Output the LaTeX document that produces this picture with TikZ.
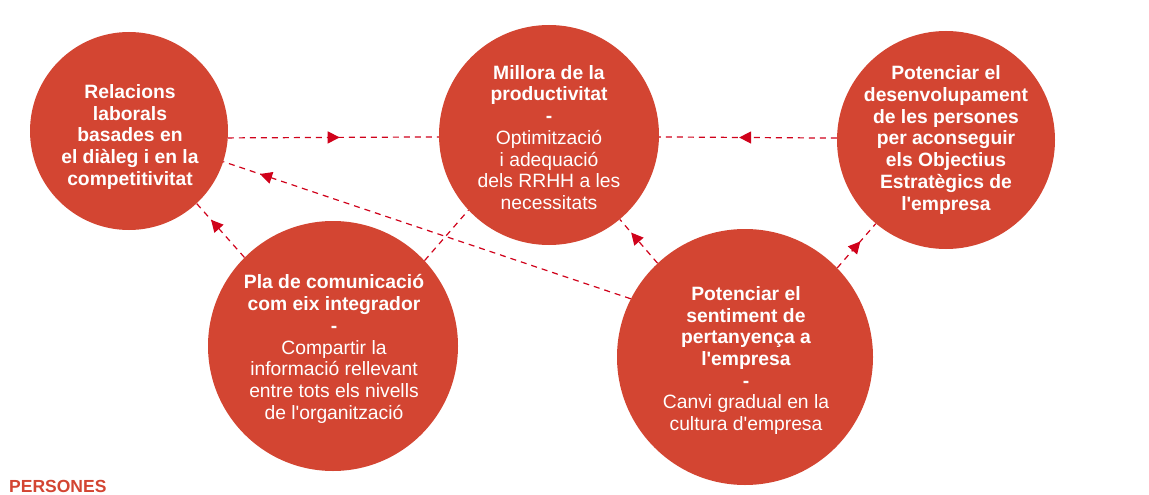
\documentclass[tikz,border=0pt]{standalone}
\usepackage{fontspec}
\setmainfont{Liberation Sans}
\usetikzlibrary{arrows.meta,decorations.markings}
\definecolor{circred}{HTML}{D34532}
\definecolor{arrred}{HTML}{D0021B}
\newcommand{\ap}{\textquotesingle}
\tikzset{
  circ/.style={circle,fill=circred,draw=none,inner sep=0pt},
  txt/.style={text=white,align=center,inner sep=0pt,font=\fontsize{19.3}{21.7}\selectfont},
  conn/.style={draw=arrred,line width=1.2pt,dash pattern=on 6pt off 5pt},
  midarrow/.style={conn,postaction={decorate},decoration={markings,
     mark=at position #1 with {\arrow[arrred]{Triangle[length=12pt,width=12pt]}}}}
}
\begin{document}
\begin{tikzpicture}[x=1pt,y=-1pt]
\useasboundingbox (0,0) rectangle (1149,495);
% circles
\node[circ,minimum size=198pt] (c1) at (129,131) {};
\node[circ,minimum size=220pt] (c2) at (549,135) {};
\node[circ,minimum size=218pt] (c3) at (946,140) {};
\node[circ,minimum size=250pt] (c4) at (333,346) {};
\node[circ,minimum size=256pt] (c5) at (745,357) {};
% texts
\node[txt] (t1) at (130,137) {\textbf{Relacions}\\\textbf{laborals}\\\textbf{basades en}\\\textbf{el diàleg i en la}\\\textbf{competitivitat}};
\node[txt] (t2) at (549,137.5) {\textbf{Millora de la}\\\textbf{productivitat}\\\textbf{-}\\Optimització\\i adequació\\dels RRHH a les\\necessitats};
\node[txt] (t3) at (946,140) {\textbf{Potenciar el}\\\textbf{desenvolupament}\\\textbf{de les persones}\\\textbf{per aconseguir}\\\textbf{els Objectius}\\\textbf{Estratègics de}\\\textbf{l\ap empresa}};
\node[txt] (t4) at (334,349) {\textbf{Pla de comunicació}\\\textbf{com eix integrador}\\\textbf{-}\\Compartir la\\informació rellevant\\entre tots els nivells\\de l\ap organització};
\node[txt] (t5) at (746,360.5) {\textbf{Potenciar el}\\\textbf{sentiment de}\\\textbf{pertanyença a}\\\textbf{l\ap empresa}\\\textbf{-}\\Canvi gradual en la\\cultura d\ap empresa};
% connectors
\draw[midarrow=0.53] (c1.-4) -- (c2.181.5);
\draw[midarrow=0.55] (c3.179) -- (c2.-1.5);
\draw[midarrow=0.70] (c4.135.6) -- (c1.-47.6);
\draw[conn] (c4.43.5) -- (c2.223.5);
\draw[midarrow=0.91] (c5.153.2) -- (c1.-18.4);
\draw[midarrow=0.70] (c5.133.5) -- (c2.-50.7);
\draw[midarrow=0.60] (c5.44.7) -- (c3.-130);
% label
\node[anchor=base west,inner sep=0pt,text=circred,font=\fontsize{17.5}{20}\selectfont\bfseries] (lab) at (9,492.5) {PERSONES};
\end{tikzpicture}
\end{document}
